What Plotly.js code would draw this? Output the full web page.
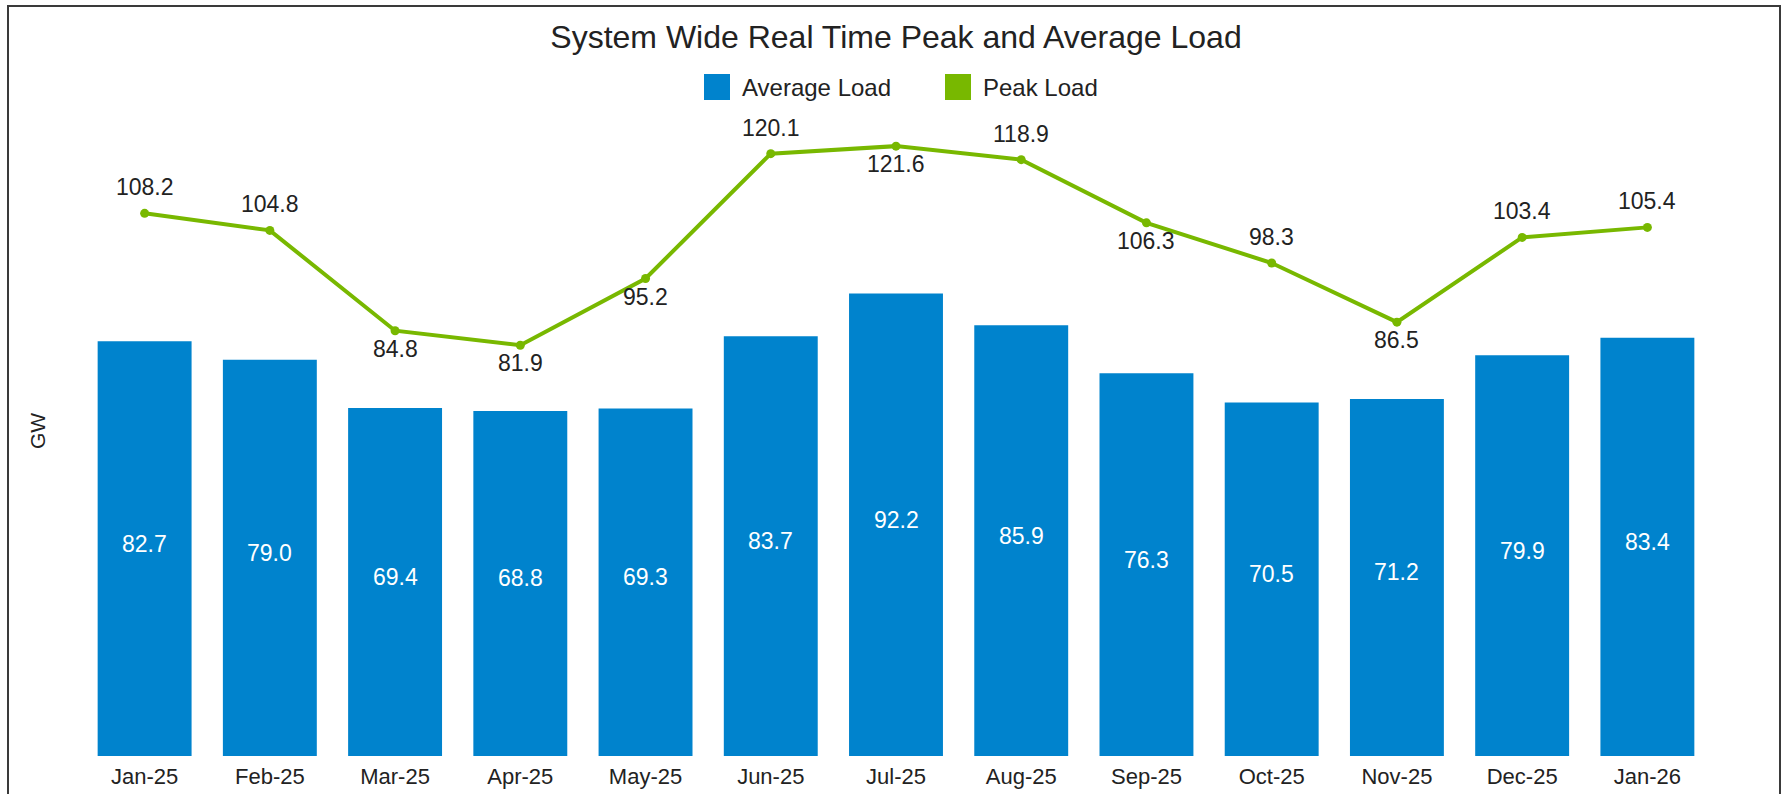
<!DOCTYPE html>
<html>
<head>
<meta charset="utf-8">
<script src="https://cdn.plot.ly/plotly-3.0.1.min.js"></script>
<style>
html,body{margin:0;padding:0;background:#fff;}
#chart{width:1784px;height:794px;}
</style>
</head>
<body>
<div id="chart"></div>
<script>
// ---- data ----
const months = ['Jan-25','Feb-25','Mar-25','Apr-25','May-25','Jun-25','Jul-25','Aug-25','Sep-25','Oct-25','Nov-25','Dec-25','Jan-26'];
const averageLoad = [82.7,79.0,69.4,68.8,69.3,83.7,92.2,85.9,76.3,70.5,71.2,79.9,83.4];
const peakLoad = [108.2,104.8,84.8,81.9,95.2,120.1,121.6,118.9,106.3,98.3,86.5,103.4,105.4];
const peakLabelSide = ['above','above','below','below','below','above','below','above','below','above','below','above','above'];
const seriesNames = ['Average Load','Peak Load'];

// ---- style ----
const BLUE = '#0083CD';
const GREEN = '#78B800';
const FONT = 'Liberation Sans, Arial, sans-serif';
const W = 1784, H = 794;
const M = {l:82, r:74, t:104, b:38};
const PW = W - M.l - M.r, PH = H - M.t - M.b;
const px2x = p => (p - M.l) / PW;
const px2y = p => (H - M.b - p) / PH;

const traces = [
  {
    type:'bar', name:seriesNames[0], x:months, y:averageLoad,
    marker:{color:BLUE},
    showlegend:false, hoverinfo:'x+y'
  },
  {
    type:'scatter', mode:'lines+markers', name:seriesNames[1], x:months, y:peakLoad,
    line:{color:GREEN, width:4},
    marker:{color:GREEN, size:9},
    showlegend:false, cliponaxis:false, hoverinfo:'x+y'
  }
];

const shapes = [
  {type:'rect', xref:'paper', yref:'paper',
   x0:px2x(8), x1:px2x(1780), y0:px2y(800), y1:px2y(6),
   line:{color:'#3a3a3a', width:2}, fillcolor:'rgba(0,0,0,0)', layer:'above'}
];
const annotations = [
  {text:'GW', xref:'paper', yref:'paper', x:px2x(37), y:px2y(431),
   xanchor:'center', yanchor:'middle', textangle:-90, showarrow:false,
   font:{family:FONT, size:21, color:'#222'}}
];

// value labels inside the bars
months.forEach((m, i) => {
  annotations.push({x:m, y:averageLoad[i]/2, xref:'x', yref:'y', yshift:5,
    text:averageLoad[i].toFixed(1), showarrow:false, xanchor:'center', yanchor:'middle',
    font:{family:FONT, size:23, color:'#ffffff'}});
});
// value labels of the peak line
months.forEach((m, i) => {
  const above = peakLabelSide[i] === 'above';
  annotations.push({x:m, y:peakLoad[i], xref:'x', yref:'y', yshift: above ? 26 : -18,
    text:peakLoad[i].toFixed(1), showarrow:false, xanchor:'center', yanchor:'middle',
    font:{family:FONT, size:23, color:'#222222'}});
});

// legend
const legendItems = [
  {name:seriesNames[0], color:BLUE, sq:704, tx:740},
  {name:seriesNames[1], color:GREEN, sq:945, tx:981}
];
legendItems.forEach(it => {
  shapes.push({type:'rect', xref:'paper', yref:'paper',
    x0:px2x(it.sq), x1:px2x(it.sq+26), y0:px2y(100), y1:px2y(74),
    line:{width:0}, fillcolor:it.color});
  annotations.push({text:it.name, xref:'paper', yref:'paper',
    x:px2x(it.tx), y:px2y(87), xanchor:'left', yanchor:'middle', showarrow:false,
    font:{family:FONT, size:24, color:'#222'}});
});

const layout = {
  width:W, height:H,
  margin:M,
  paper_bgcolor:'#ffffff', plot_bgcolor:'#ffffff',
  title:{text:'System Wide Real Time Peak and Average Load',
         font:{family:FONT, size:32, color:'#222'},
         x:0.5, xref:'paper', y:1-37/H, yref:'container', yanchor:'middle'},
  bargap:0.25,
  xaxis:{type:'category', range:[-0.5, months.length-0.5], showgrid:false, zeroline:false,
         showline:false, ticks:'', ticklabelstandoff:5,
         tickfont:{family:FONT, size:22, color:'#222'}, fixedrange:true},
  yaxis:{range:[0,130], showgrid:false, zeroline:false, showline:false,
         showticklabels:false, ticks:'', fixedrange:true},
  shapes:shapes,
  annotations:annotations,
  showlegend:false
};

Plotly.newPlot('chart', traces, layout, {displayModeBar:false, staticPlot:true});
</script>
</body>
</html>
